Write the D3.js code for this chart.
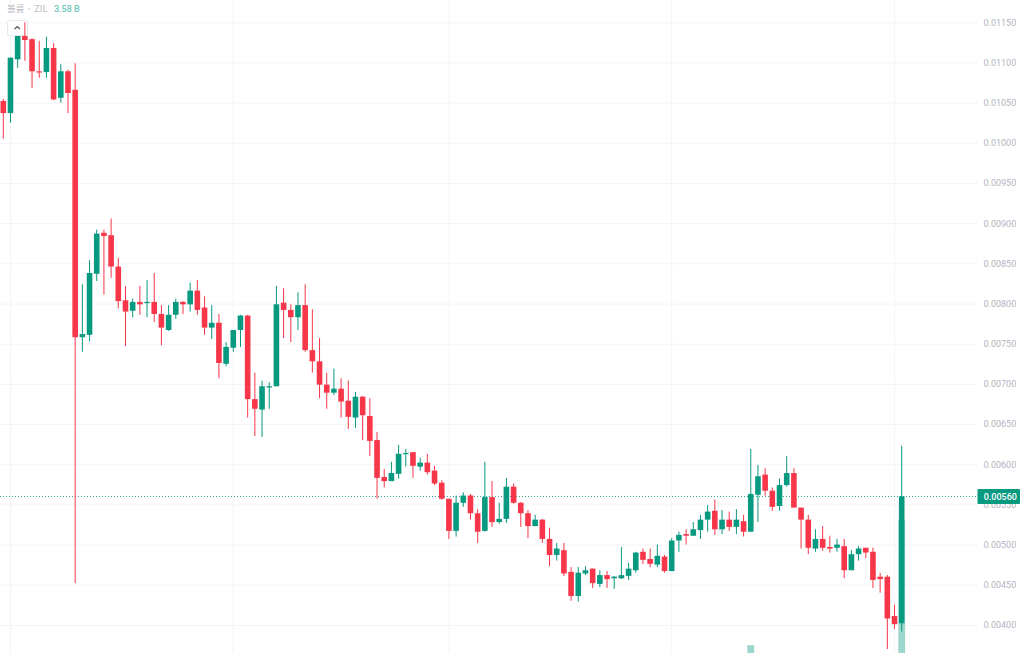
<!DOCTYPE html>
<html>
<head>
<meta charset="utf-8">
<script src="https://cdn.jsdelivr.net/npm/d3@7"></script>
<style>
html, body { margin: 0; padding: 0; background: #fff; overflow: hidden; }
svg { display: block; font-family: Roboto, "Noto Sans CJK KR", sans-serif; }
</style>
</head>
<body>
<svg width="1024" height="653"></svg>
<script>
// prices are in units of 0.00001
const unit = 1e-5;
const opens = [1052,1037,1104,1133,1129,1089,1088,1118,1056,1089,1066,758,761,837,888,885,846,804,791,802,801,802,787,767,786,802,799,816,795,770,776,725,745,767,785,681,668,696,697,801,792,783,798,742,728,699,689,694,679,658,684,660,630,584,579,588,613,615,597,602,592,577,557,517,552,561,539,517,559,528,532,572,552,539,523,531,507,487,493,466,436,464,470,451,462,458,458,461,468,491,482,475,485,467,505,513,511,518,531,542,519,531,522,529,516,562,587,567,548,574,589,546,531,495,507,497,496,498,468,488,496,491,460,460,411,402];
const highs = [1055,1106,1133,1150,1130,1127,1132,1124,1098,1091,1099,824,854,892,892,906,857,822,806,822,829,838,798,798,806,803,826,829,809,798,787,752,767,786,786,714,704,702,822,819,799,814,824,793,757,714,719,707,704,690,685,682,640,594,603,624,619,615,608,613,598,580,557,561,565,563,544,603,579,552,583,576,553,543,537,532,521,502,502,472,472,473,470,468,467,461,497,477,491,495,495,500,487,508,516,519,528,537,549,556,543,541,544,537,619,599,595,571,582,610,595,546,537,519,523,511,507,507,493,498,496,496,465,462,425,623];
const lows = [1005,1025,1093,1102,1068,1081,1081,1053,1050,1037,452,740,753,828,811,832,794,747,783,786,783,777,748,766,781,787,790,786,761,756,707,722,740,746,658,635,634,669,697,757,752,767,740,714,682,669,686,658,644,645,630,610,557,571,579,582,597,583,592,587,574,556,507,510,547,531,502,516,522,526,527,551,522,508,523,502,473,480,461,430,429,462,446,447,446,445,457,456,465,476,472,472,465,467,491,500,511,507,516,512,513,517,513,510,516,528,561,542,542,572,546,495,488,491,492,490,491,458,468,480,483,446,440,370,395,392];
const closes = [1037,1106,1133,1128,1089,1088,1118,1054,1089,1062,758,762,838,887,884,846,803,790,802,799,802,787,770,786,802,799,816,792,770,776,726,746,767,785,681,669,697,697,799,792,783,798,742,728,699,689,694,678,659,684,661,629,583,579,589,613,614,598,602,590,576,557,517,552,561,539,516,559,528,532,572,552,539,523,531,507,487,495,464,436,465,468,452,462,457,460,462,470,490,481,476,486,467,505,512,511,519,531,541,519,531,522,531,516,563,585,567,547,574,589,546,531,496,507,496,495,500,468,488,495,490,456,457,408,401,560];
// only two volume bars reach into the visible part of the pane
const volumeIndex = [104, 125];
const volumeValues = [1.09, 3.58];
const priceTicks = [1150,1100,1050,1000,950,900,850,800,750,700,650,600,550,500,450,400];
const monthStarts = [1, 32, 62, 93, 124];
const lastPrice = 560;
const volumeLabel = "볼륨 · ZIL";
const volumeText = "3.58 B";

const green = "#089981", red = "#f8364a", volGreen = "#9cd6cc", gridColor = "#f4f4f6", axisText = "#b2b5be";

let svg = d3.select("svg");
let x = d3.scaleLinear().domain([0, opens.length - 1]).range([3.3, 901.7]);
let y = d3.scaleLinear().domain([1150, 400]).range([22.3, 624.9]);
let yVol = d3.scaleLinear().domain([0, 3.58]).range([700, 520]);
const fmt = v => (v * unit).toFixed(5);

// horizontal grid + price labels
let axis = svg.append("g")
	.attr("transform", "translate(977,0)")
	.call(d3.axisRight(y).tickValues(priceTicks).tickFormat(fmt).tickSize(-977).tickPadding(6.5));
axis.select(".domain").remove();
axis.selectAll("line").attr("stroke", gridColor);
axis.selectAll("text").attr("fill", axisText).attr("font-size", 9).attr("font-family", "Roboto");

// vertical grid
svg.append("g").selectAll("line")
	.data(monthStarts)
	.enter().append("line")
	.attr("x1", d => x(d)).attr("x2", d => x(d))
	.attr("y1", 0).attr("y2", 653)
	.attr("stroke", gridColor);

// volume
svg.append("g").selectAll("rect")
	.data(volumeIndex)
	.enter().append("rect")
	.attr("x", d => x(d) - 3.4)
	.attr("width", 6.8)
	.attr("y", (d, i) => yVol(volumeValues[i]))
	.attr("height", (d, i) => yVol(0) - yVol(volumeValues[i]))
	.attr("fill", volGreen);

// legend
let legend = svg.append("g");
legend.append("text").attr("x", 7).attr("y", 11.5).attr("font-size", 9.5)
	.attr("fill", "#bcbec6").attr("font-family", "'Noto Sans CJK KR'").text(volumeLabel);
legend.append("text").attr("x", 54).attr("y", 11.5).attr("font-size", 9)
	.attr("fill", "#6cc5b5").attr("font-weight", 500).text(volumeText);

// collapse button
svg.append("rect")
	.attr("x", 7.5).attr("y", 20.5).attr("width", 20).attr("height", 15).attr("rx", 2)
	.attr("fill", "#fff").attr("stroke", "#e6e7ec");
svg.append("path")
	.attr("d", d3.line()([[14.5, 29], [17.3, 26.5], [20, 29]]))
	.attr("fill", "none").attr("stroke", "#50535e").attr("stroke-width", 1.2);

// last price line
svg.append("line")
	.attr("x1", 0).attr("x2", 977)
	.attr("y1", 496.5).attr("y2", 496.5)
	.attr("stroke", green).attr("stroke-width", 1).attr("stroke-dasharray", "1 2").attr("opacity", 0.85);

// candles
let candles = svg.append("g").selectAll("g")
	.data(d3.range(opens.length))
	.enter().append("g")
	.attr("fill", d => closes[d] >= opens[d] ? green : red);
candles.append("rect")
	.attr("x", d => x(d) - 0.5)
	.attr("width", 1)
	.attr("y", d => y(highs[d]))
	.attr("height", d => y(lows[d]) - y(highs[d]));
candles.append("rect")
	.attr("x", d => x(d) - 2.8)
	.attr("width", 5.6)
	.attr("y", d => y(Math.max(opens[d], closes[d])))
	.attr("height", d => Math.max(1.2, Math.abs(y(opens[d]) - y(closes[d]))));

// last price tag
svg.append("rect")
	.attr("x", 977.5).attr("y", 489).attr("width", 42.5).attr("height", 15).attr("rx", 1)
	.attr("fill", green);
svg.append("text")
	.attr("x", 983.7).attr("y", 499.8)
	.attr("fill", "#fff").attr("font-size", 9).attr("font-weight", 500)
	.text(fmt(lastPrice));
</script>
</body>
</html>
